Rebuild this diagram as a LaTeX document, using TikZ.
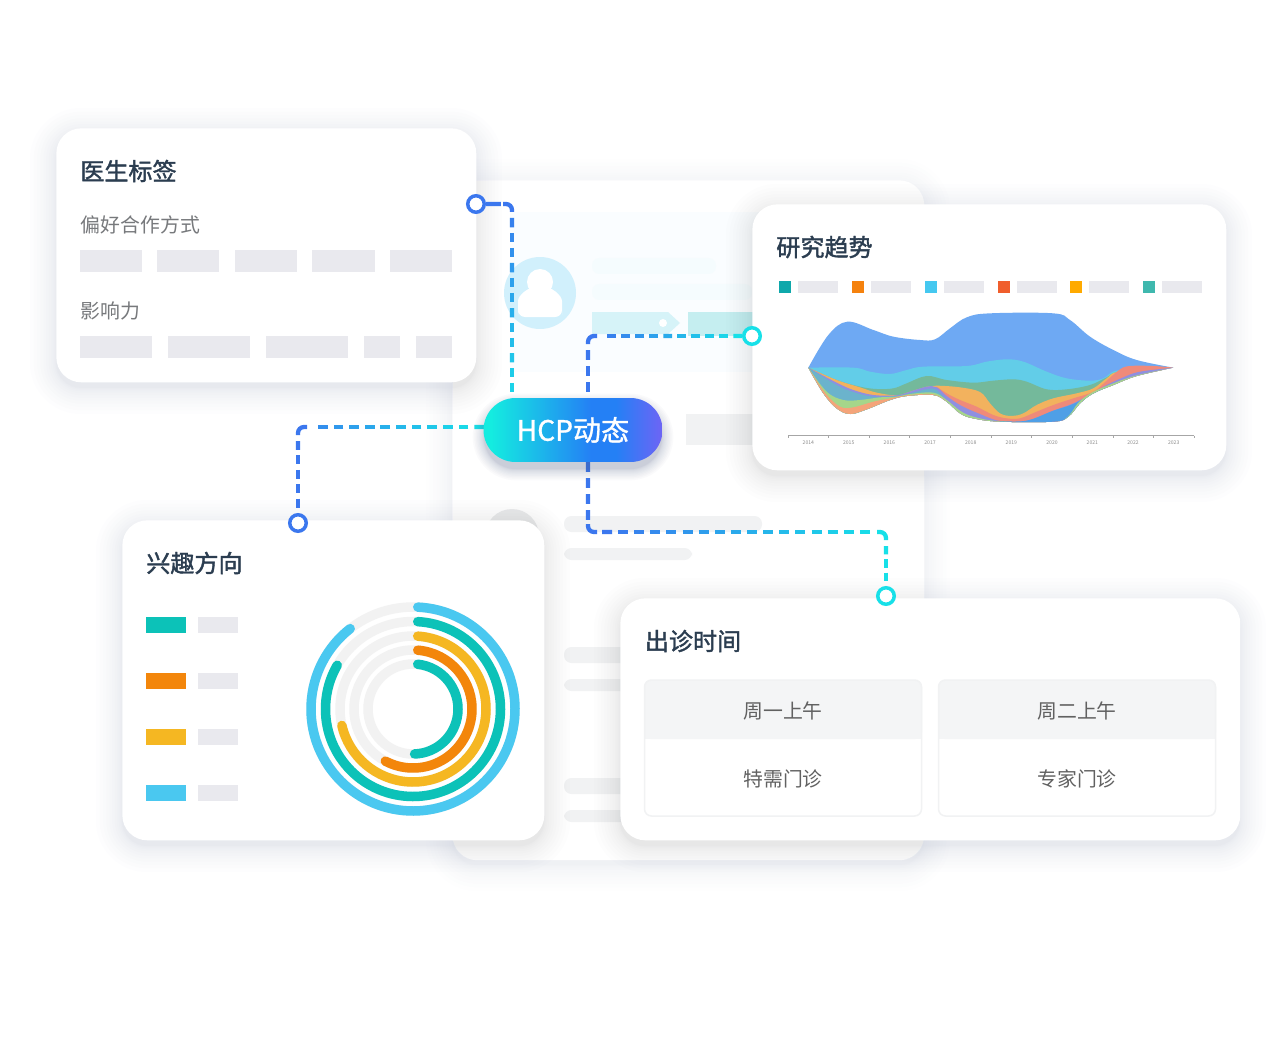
\documentclass[tikz,border=0pt]{standalone}
\usepackage{fontspec}
\setmainfont{Noto Sans CJK SC}
\newfontfamily\headfont[FakeBold=1.6]{Noto Sans CJK SC}
\newfontfamily\pillfont[FakeBold=1.1]{Noto Sans CJK SC}
\usetikzlibrary{calc}

\definecolor{hcpblue}{HTML}{3B77EE}
\definecolor{hcpcyan}{HTML}{17E0E8}
\definecolor{pillcyan}{HTML}{14ECE0}
\definecolor{pillblue}{HTML}{2480F5}
\definecolor{pillviolet}{HTML}{6E64F5}
\definecolor{barGray}{HTML}{E9E9EE}
\definecolor{softGray}{HTML}{F1F2F3}
\definecolor{titleInk}{HTML}{2B3D50}
\definecolor{bodyInk}{HTML}{77797C}
\definecolor{shadowInk}{HTML}{55658A}
\definecolor{ringTeal}{HTML}{0CC2B8}
\definecolor{ringOrange}{HTML}{F3860B}
\definecolor{ringYellow}{HTML}{F5B722}
\definecolor{ringSky}{HTML}{4AC8F0}
\definecolor{ringTrack}{HTML}{F2F2F2}
\definecolor{sheetTag}{HTML}{D6F3F8}
\definecolor{sheetBox}{HTML}{C5EEF0}
\definecolor{headGray}{HTML}{F4F5F6}
\definecolor{areaBlue}{HTML}{6EA9F3}
\definecolor{areaSky}{HTML}{62CDE8}
\definecolor{areaGreen}{HTML}{74B99B}
\definecolor{areaAmber}{HTML}{F2B25E}
\definecolor{areaRed}{HTML}{EF8A7A}
\definecolor{areaViolet}{HTML}{8F8FE0}
\definecolor{areaDeep}{HTML}{4F9FE6}
\definecolor{areaTeal}{HTML}{6BB3CC}
\definecolor{areaLime}{HTML}{A5D68A}
\definecolor{areaPeach}{HTML}{F4A47A}

\pgfdeclarehorizontalshading{pillshade}{100bp}{color(0bp)=(pillcyan); color(27bp)=(pillcyan); color(55bp)=(pillblue); color(62bp)=(pillblue); color(75bp)=(pillviolet); color(100bp)=(pillviolet)}

% one straight run of dashes, the ink going from #4 to #5 percent of blue
\newcommand{\dashleg}[5]{%
  \foreach \i in {1,...,#3} {
    \pgfmathsetmacro{\ta}{(\i-1)/#3}
    \pgfmathsetmacro{\tb}{(\i-0.38)/#3}
    \pgfmathtruncatemacro{\pc}{#4+(#5-#4)*(\i-1)/#3}
    \draw[dashline, draw=hcpblue!\pc!hcpcyan] ($#1!\ta!#2$) -- ($#1!\tb!#2$);
  }%
}
% soft shadow: corner, corner, radius in cm, spread, drop, opacity of a layer
\newcommand{\softshadow}[6]{%
  \foreach \s in {1,...,12} {
    \pgfmathsetmacro{\e}{#4*(1-\s/12)^1.6}
    \pgfmathsetmacro{\rr}{#3+\e*0.02}
    \fill[shadowInk, opacity=#6, rounded corners=\rr cm] ($#1+(-\e,-\e+#5)$) rectangle ($#2+(\e,\e+#5)$);
  }%
}

\begin{document}
\begin{tikzpicture}[
    x=0.02cm, y=-0.02cm,
    card/.style={rectangle, rounded corners=0.5cm, fill=white, anchor=north west, inner sep=0pt},
    title/.style={anchor=west, inner sep=0pt, text=titleInk, font=\fontsize{13.7}{15}\headfont},
    label/.style={anchor=west, inner sep=0pt, text=bodyInk, font=\fontsize{11.3}{13}\selectfont},
    cell/.style={anchor=center, inner sep=0pt, text=black!62, font=\fontsize{11.3}{13}\selectfont},
    year/.style={anchor=center, inner sep=0pt, text=black!45, font=\fontsize{2.9}{3}\selectfont},
    bar/.style={fill=barGray},
    softbar/.style={fill=softGray, rounded corners=0.15cm},
    ring/.style={line width=0.19cm, line cap=round},
    dashline/.style={line width=0.085cm},
    dot/.style={circle, draw=#1, fill=white, line width=0.07cm, minimum size=0.33cm, inner sep=0pt},
    pill/.style={rectangle, rounded corners=0.64cm, minimum width=3.58cm, minimum height=1.28cm, inner sep=0pt,
                 shading=pillshade, text=white, font=\fontsize{16}{18}\pillfont},
    area/.style={smooth, tension=0.6}
]
\useasboundingbox (0,0) rectangle (1280,1040);

% profile sheet behind the cards
\softshadow{(452,180)}{(924,860)}{0.5}{30}{5}{0.007}
\node[card, minimum width=9.44cm, minimum height=13.6cm] (sheet) at (452,180) {};
\fill[cyan!2] (510,212) rectangle (760,372);
\node[circle, fill=cyan!18, minimum size=1.44cm, inner sep=0pt] (avatar) at (540,293) {};
\fill[white] (540,282) circle (13);
\fill[white, rounded corners=0.14cm] (518,317) -- (518,308) arc[start angle=180, end angle=360, radius=22] -- (562,317) -- cycle;
\fill[cyan!4, rounded corners=0.15cm] (592,258) rectangle (716,274);
\fill[cyan!4, rounded corners=0.15cm] (592,284) rectangle (752,300);
\fill[sheetTag] (592,312) -- (668,312) -- (680,323) -- (668,334) -- (592,334) -- cycle;
\fill[white] (663,323) circle (4);
\fill[sheetBox] (688,312) rectangle (760,336);
\fill[softGray] (686,414) rectangle (760,445);
\fill[softGray!97!black] (512,536) circle (27);
\fill[softbar] (564,516) rectangle (762,532);
\fill[softbar] (564,548) rectangle (692,560);
\foreach \y in {647,778} {
  \fill[softbar] (564,\y) rectangle (640,\y+16);
  \fill[softbar] (564,\y+32) rectangle (640,\y+44);
}

% doctor tags
\softshadow{(56,128)}{(476,382)}{0.5}{30}{6}{0.013}
\node[card, minimum width=8.4cm, minimum height=5.08cm] (tagcard) at (56,128) {};
\node[title] (tagtitle) at (80,171) {医生标签};
\node[label] (tagway) at (80.5,225) {偏好合作方式};
\node[label] (tagpower) at (80.5,311) {影响力};
\foreach \a/\b in {80/142,157/219,235/297,312/375,390/452}
  \fill[bar] (\a,250) rectangle (\b,272);
\foreach \a/\b in {80/152,168/250,266/348,364/400,416/452}
  \fill[bar] (\a,336) rectangle (\b,358);

% research trend
\softshadow{(752,204)}{(1226,470)}{0.5}{30}{6}{0.013}
\node[card, minimum width=9.48cm, minimum height=5.32cm] (trendcard) at (752,204) {};
\node[title] (trendtitle) at (776,247) {研究趋势};
\foreach \a/\col in {779/0FA8AB,852/F5820E,925/45C8F0,998/F05E2C,1070/FFAA00,1143/3FB8AE} {
  \definecolor{legendcol}{HTML}{\col}
  \fill[legendcol] (\a,281) rectangle (\a+12,293);
  \fill[bar] (\a+19,281) rectangle (\a+59,293);
}
\begin{scope}[shift={(760,290)}, scale=0.33333]
  \begin{scope}
    \clip plot[area] coordinates {(145,233) (205,135) (262,95) (340,120) (400,140) (480,150) (525,148) (570,115) (620,82) (690,70) (880,70) (930,90) (990,140) (1060,180) (1130,210) (1240,233)}
       -- plot[area] coordinates {(1240,233) (1130,258) (1060,285) (1000,310) (960,340) (925,380) (880,395) (720,395) (640,385) (600,370) (560,335) (520,315) (440,318) (390,330) (320,358) (270,372) (230,355) (190,310) (145,233)} -- cycle;
    \fill[areaBlue] (100,0) rectangle (1300,500);
    \fill[areaSky] plot[area] coordinates {(145,233) (280,233) (330,245) (390,252) (440,240) (490,230) (620,228) (680,215) (740,208) (790,215) (860,245) (920,265) (990,272) (1030,265) (1080,240) (1240,240)} -- (1240,500) -- (145,500) -- cycle;
    \fill[areaGreen] plot[area] coordinates {(145,233) (230,270) (300,290) (350,297) (400,295) (440,280) (500,258) (560,270) (640,278) (700,272) (760,268) (800,275) (860,298) (920,298) (990,285) (1040,262) (1080,245) (1240,240)} -- (1240,500) -- (145,500) -- cycle;
    \fill[areaAmber] plot[area] coordinates {(145,233) (230,270) (300,292) (350,308) (410,316) (450,305) (500,290) (530,287) (600,292) (660,306) (690,340) (720,370) (755,378) (790,370) (830,345) (880,325) (950,310) (1000,295) (1040,265) (1080,245) (1240,240)} -- (1240,500) -- (145,500) -- cycle;
    \fill[areaRed] plot[area] coordinates {(530,290) (560,310) (600,330) (650,350) (700,375) (740,385) (780,385) (830,365) (880,345) (940,325) (1000,305) (1040,272) (1080,238) (1110,228) (1180,228) (1240,233)} -- (1240,500) -- (530,500) -- cycle;
    \fill[areaViolet] plot[area] coordinates {(145,233) (230,278) (280,300) (340,315) (410,316) (450,305) (500,290) (530,292) (560,318) (600,345) (650,368) (720,393) (800,392) (880,362) (940,340) (1000,308) (1040,285) (1090,262) (1140,245) (1240,233)} -- (1240,500) -- (145,500) -- cycle;
    \fill[areaDeep] plot[area] coordinates {(720,393) (800,392) (880,362) (940,342) (1000,310) (1040,290)} -- (1040,500) -- (720,500) -- cycle;
    \fill[areaTeal] plot[area] coordinates {(145,233) (230,285) (280,306) (340,320) (410,318) (450,310) (500,298) (530,300) (570,345)} -- (570,500) -- (145,500) -- cycle;
    \fill[areaLime] plot[area] coordinates {(145,233) (200,305) (250,330) (300,330) (360,322) (410,320) (450,312) (520,308) (560,330) (600,362) (640,380) (720,394) (880,398) (925,378) (955,338) (995,308) (1055,282) (1130,256) (1240,233)} -- (1240,500) -- (145,500) -- cycle;
    \fill[areaPeach] plot[area] coordinates {(145,233) (195,308) (240,350) (280,352) (340,335) (390,325) (440,316) (520,313) (560,335)} -- (560,500) -- (145,500) -- cycle;
  \end{scope}
  % axis of the years
  \draw[black!35, line width=0.02cm] (85,437) -- (1303,437);
  \foreach \t in {85,205,328,449,572,694,814,938,1060,1180,1303}
    \draw[black!35, line width=0.02cm] (\t,437) -- (\t,443);
  \foreach \t/\lab in {145/2014,266/2015,388/2016,510/2017,632/2018,754/2019,876/2020,997/2021,1119/2022,1241/2023}
    \node[year] (y\lab) at (\t,457) {\lab};
\end{scope}

% interests
\softshadow{(122,520)}{(544,840)}{0.5}{30}{6}{0.013}
\node[card, minimum width=8.44cm, minimum height=6.4cm] (interestcard) at (122,520) {};
\node[title] (interesttitle) at (146,563) {兴趣方向};
\foreach \y/\col in {617/ringTeal,673/ringOrange,729/ringYellow,785/ringSky} {
  \fill[\col] (146,\y) rectangle (186,\y+16);
  \fill[bar] (198,\y) rectangle (238,\y+16);
}
\coordinate (rings) at (413,709);
\foreach \r in {102,87.5,73,59,45}
  \draw[ringTrack, line width=0.19cm] (rings) circle (\r);
\foreach \r/\s/\sweep/\col in {102/2.7/322/ringSky,87.5/3.1/300/ringTeal,73/3.7/257/ringYellow,59/4.6/208/ringOrange,45/6/178/ringTeal}
  \draw[ring, \col] ($(rings)+(-90+\s:\r)$) arc[start angle=-90+\s, end angle=-90+\sweep, radius=\r];

% clinic hours
\softshadow{(620,598)}{(1240,840)}{0.5}{30}{6}{0.013}
\node[card, minimum width=12.4cm, minimum height=4.84cm] (clinic) at (620,598) {};
\node[title] (clinictitle) at (644.5,641) {出诊时间};
\foreach \a/\b/\n/\head/\kind in {644/922/a/周一上午/特需门诊,938/1216/b/周二上午/专家门诊} {
  \fill[fill=headGray, rounded corners=0.14cm] (\a,680) -- (\b,680) -- (\b,739) -- (\a,739) -- cycle;
  \fill[headGray] (\a,725) rectangle (\b,739);
  \draw[draw=softGray, line width=0.03cm, rounded corners=0.14cm] (\a+0.5,680) rectangle (\b-0.5,816);
  \node[cell] (head\n) at ({(\a+\b)/2},711) {\head};
  \node[cell] (kind\n) at ({(\a+\b)/2},779) {\kind};
}

% connectors
\coordinate (tagcorner) at (512,204);
\coordinate (pilltop) at (512,398);
\coordinate (pillleft) at (484,427);
\coordinate (leftcorner) at (298,427);
\coordinate (midcorner) at (588,336);
\coordinate (midtop) at (588,398);
\coordinate (lowstart) at (588,462);
\coordinate (lowcorner) at (588,532);
\coordinate (rightcorner) at (886,532);

\node[dot=hcpblue] (tagdot) at (476,204) {};
\node[dot=hcpblue] (interestdot) at (298,523) {};
\node[dot=hcpcyan] (trenddot) at (752,336) {};
\node[dot=hcpcyan] (clinicdot) at (886,596) {};

\dashleg{(tagdot.east)}{($(tagcorner)+(-2,0)$)}{1}{100}{100}
\draw[dashline, draw=hcpblue, rounded corners=0.12cm] ($(tagcorner)+(-9,0)$) -- (tagcorner) -- ($(tagcorner)+(0,8)$);
\dashleg{($(tagcorner)+(0,14)$)}{(pilltop)}{12}{90}{5}

\dashleg{(pillleft)}{($(leftcorner)+(14,0)$)}{11}{0}{85}
\draw[dashline, draw=hcpblue, rounded corners=0.12cm] ($(leftcorner)+(9,0)$) -- (leftcorner) -- ($(leftcorner)+(0,8)$);
\dashleg{($(leftcorner)+(0,14)$)}{(interestdot.north)}{5}{100}{100}

\dashleg{(trenddot.west)}{($(midcorner)+(14,0)$)}{10}{0}{100}
\draw[dashline, draw=hcpblue, rounded corners=0.12cm] ($(midcorner)+(9,0)$) -- (midcorner) -- ($(midcorner)+(0,8)$);
\dashleg{($(midcorner)+(0,14)$)}{(midtop)}{3}{100}{100}

\dashleg{(lowstart)}{($(lowcorner)+(0,-6)$)}{4}{100}{100}
\draw[dashline, draw=hcpblue, rounded corners=0.12cm] ($(lowcorner)+(0,-8)$) -- (lowcorner) -- ($(lowcorner)+(9,0)$);
\dashleg{($(lowcorner)+(14,0)$)}{($(rightcorner)+(-10,0)$)}{17}{100}{0}
\draw[dashline, draw=hcpcyan, rounded corners=0.12cm] ($(rightcorner)+(-9,0)$) -- (rightcorner) -- ($(rightcorner)+(0,8)$);
\dashleg{($(rightcorner)+(0,14)$)}{(clinicdot.north)}{3}{0}{0}

\softshadow{(484,398)}{(662,462)}{0.64}{13}{7}{0.028}
\node[pill] (hcp) at (573,430) {\raisebox{-1.2pt}{HCP动态}};

\end{tikzpicture}
\end{document}
